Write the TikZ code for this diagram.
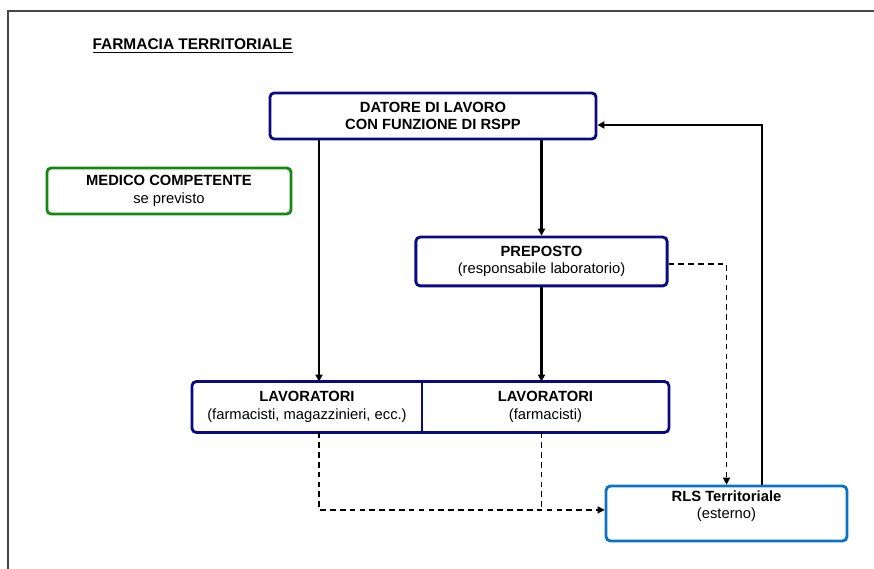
\documentclass[tikz,border=0pt]{standalone}
\usepackage{fontspec}
\setmainfont{Liberation Sans}
\usepackage{xcolor}
\usepackage{tikz}
\usetikzlibrary{
  arrows.meta,
  positioning,
  calc
}
\definecolor{navyblu}{RGB}{10,10,130}
\definecolor{verdemed}{RGB}{20,135,20}
\definecolor{azzurrorls}{RGB}{10,115,200}
\definecolor{cornice}{RGB}{70,70,70}

\begin{document}
\begin{tikzpicture}[x=0.025cm, y=-0.025cm, thick, >={Triangle[length=5pt,width=5pt]},
    box/.style={draw=navyblu, line width=2pt, rounded corners=3pt, align=center, inner sep=2pt, font=\fontsize{10.5}{12.5}\selectfont},
    freccia/.style={->, line width=1.6pt},
    tratteggio/.style={dash pattern=on 4pt off 3pt, line width=0.9pt}]
    \useasboundingbox (0,0) rectangle (874,569);
    % cornice
    \draw[cornice, line width=1.5pt] (8,575) |- (880,11);

    % titolo
    \node[anchor=west, inner sep=0pt, font=\fontsize{11}{13}\selectfont\bfseries] (titolo) at (92,46) {\underline{FARMACIA TERRITORIALE}};

    % Datore di lavoro
    \node[box, minimum width=8.15cm, minimum height=1.15cm] (datore) at (433,116) {
        \textbf{DATORE DI LAVORO}\\
        \textbf{CON FUNZIONE DI RSPP}
    };

    % Medico competente
    \node[box, draw=verdemed, minimum width=6.1cm, minimum height=1.15cm] (medico) at (169,191) {
        \textbf{MEDICO COMPETENTE}\\
        se previsto
    };

    % Preposto
    \node[box, minimum width=6.28cm, minimum height=1.22cm] (preposto) at (541.5,261.5) {
        \textbf{PREPOSTO}\\
        (responsabile laboratorio)
    };

    % Lavoratori (un solo riquadro diviso in due)
    \node[box, draw=none, minimum width=5.68cm, minimum height=1.2cm] (lavsx) at (307,407) {
        \textbf{LAVORATORI}\\
        (farmacisti, magazzinieri, ecc.)
    };
    \node[box, draw=none, minimum width=6.1cm, minimum height=1.2cm, right=0pt of lavsx] (lavdx) {
        \textbf{LAVORATORI}\\
        (farmacisti)
    };
    \draw[navyblu, line width=2pt, rounded corners=3pt] (lavsx.north west) rectangle (lavdx.south east);
    \draw[navyblu, line width=2pt] (lavsx.north east) -- (lavsx.south east);

    % RLS
    \node[box, draw=azzurrorls, minimum width=6.02cm, minimum height=1.37cm, text depth=0.45cm] (rls) at (726.5,513.5) {
        \textbf{RLS Territoriale}\\
        (esterno)
    };

    % frecce
    \coordinate (dl) at ([xshift=0.3cm]lavsx.north);
    \draw[freccia] (datore.south -| dl) -- (dl);
    \draw[freccia] (datore.south -| preposto.north) -- (preposto.north);
    \draw[freccia] (preposto.south) -- (preposto.south |- lavdx.north);
    \draw[freccia] ([xshift=0.89cm]rls.north) |- ([yshift=-0.225cm]datore.east);

    % tratteggi
    \coordinate (rlsin) at ([yshift=0.09cm]rls.west);
    \draw[tratteggio, ->] ([yshift=-0.06cm]preposto.east) -| (rls.north);
    \draw[tratteggio, ->] (lavsx.south -| dl) |- (rlsin);
    \draw[tratteggio] (lavdx.south -| preposto.south) -- (preposto.south |- rlsin);
  \end{tikzpicture}
\end{document}
